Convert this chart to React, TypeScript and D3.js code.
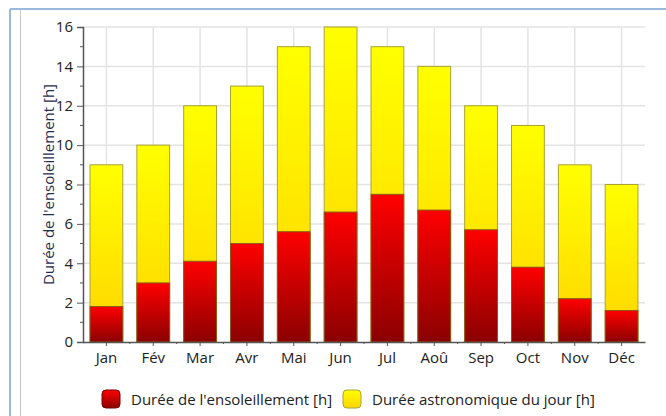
import { useEffect, useRef } from "react";
import * as d3 from "d3";

// month labels, sunshine hours and astronomical day length
const months = ["Jan", "Fév", "Mar", "Avr", "Mai", "Jun", "Jul", "Aoû", "Sep", "Oct", "Nov", "Déc"];
const sunshine = [1.8, 3.0, 4.1, 5.0, 5.6, 6.6, 7.5, 6.7, 5.7, 3.8, 2.2, 1.6];
const daylight = [9, 10, 12, 13, 15, 16, 15, 14, 12, 11, 9, 8];
const yTicks = [0, 2, 4, 6, 8, 10, 12, 14, 16];
const seriesNames = ["Durée de l'ensoleillement [h]", "Durée astronomique du jour [h]"];
const yTitle = "Durée de l'ensoleillement [h]";

const W = 666;
const H = 416;
const FONT = "'Open Sans', sans-serif";

export default function App() {
  const svgRef = useRef<SVGSVGElement>(null);

  useEffect(() => {
    const svg = d3.select(svgRef.current);
    svg.selectAll("*").remove();

    const left = 83, right = 645, top = 27, bottom = 342;

    const x = d3.scaleBand<string>().domain(months).range([left, right])
      .paddingInner(0.3).paddingOuter(0.15);
    const y = d3.scaleLinear().domain([0, 16]).range([bottom, top]);
    const cx = (m: string) => x(m)! + x.bandwidth() / 2;

    // gradients
    const defs = svg.append("defs");
    const grad = (id: string, c1: string, c2: string) => {
      const g = defs.append("linearGradient").attr("id", id)
        .attr("x1", 0).attr("y1", 0).attr("x2", 0).attr("y2", 1);
      g.append("stop").attr("offset", "0%").attr("stop-color", c1);
      g.append("stop").attr("offset", "100%").attr("stop-color", c2);
    };
    grad("gYellow", "#ffff00", "#ffd400");
    grad("gRed", "#ff0000", "#8b0000");

    // outer frame
    svg.append("line").attr("x1", 10).attr("x2", W).attr("y1", 9).attr("y2", 9)
      .attr("stroke", "#9bb9df").attr("stroke-width", 2);
    svg.append("line").attr("x1", 10).attr("x2", 10).attr("y1", 9).attr("y2", H)
      .attr("stroke", "#9bb9df").attr("stroke-width", 2);
    svg.append("line").attr("x1", 20.5).attr("x2", 20.5).attr("y1", 10).attr("y2", H)
      .attr("stroke", "#c9c9c9").attr("stroke-width", 1);

    // grid
    const grid = svg.append("g").attr("stroke", "#e3e3e3").attr("stroke-width", 1.5);
    grid.selectAll("line.h").data(yTicks.slice(1)).join("line")
      .attr("x1", left).attr("x2", right)
      .attr("y1", d => y(d)).attr("y2", d => y(d));
    grid.selectAll("line.v").data(months).join("line")
      .attr("x1", cx).attr("x2", cx)
      .attr("y1", top).attr("y2", bottom);

    // bars: day length behind, sunshine in front
    svg.append("g").selectAll("rect").data(daylight).join("rect")
      .attr("x", (_, i) => x(months[i])!)
      .attr("y", d => y(d))
      .attr("width", x.bandwidth())
      .attr("height", d => bottom - y(d))
      .attr("fill", "url(#gYellow)")
      .attr("stroke", "#a9a235").attr("stroke-width", 1);
    svg.append("g").selectAll("rect").data(sunshine).join("rect")
      .attr("x", (_, i) => x(months[i])!)
      .attr("y", d => y(d))
      .attr("width", x.bandwidth())
      .attr("height", d => bottom - y(d))
      .attr("fill", "url(#gRed)")
      .attr("stroke", "#8a5a10").attr("stroke-width", 1);

    // y axis
    const yAxis = svg.append("g").attr("transform", `translate(${left},0)`)
      .call(d3.axisLeft(y).tickValues(yTicks).tickSize(6).tickPadding(4));
    yAxis.select(".domain").attr("stroke", "#555").attr("stroke-width", 1.5);
    yAxis.selectAll(".tick line").attr("stroke", "#555");
    yAxis.selectAll("text").style("font-family", FONT).style("font-size", "15px").attr("fill", "#222");
    svg.append("g").attr("stroke", "#555").selectAll("line")
      .data(d3.range(1, 16, 2)).join("line")
      .attr("x1", left - 3).attr("x2", left).attr("y1", d => y(d)).attr("y2", d => y(d));

    // x axis
    const xAxis = svg.append("g").attr("transform", `translate(0,${bottom})`)
      .call(d3.axisBottom(x).tickSize(4).tickSizeOuter(0).tickPadding(6));
    xAxis.select(".domain").attr("stroke", "#555").attr("stroke-width", 1.5);
    xAxis.selectAll(".tick line").attr("stroke", "#555");
    xAxis.selectAll("text").style("font-family", FONT).style("font-size", "15px").attr("fill", "#222");
    const step = x.step();
    svg.append("g").attr("stroke", "#555").selectAll("line")
      .data(months.slice(1)).join("line")
      .attr("x1", d => cx(d) - step / 2)
      .attr("x2", d => cx(d) - step / 2)
      .attr("y1", bottom).attr("y2", bottom + 2);

    // y title
    svg.append("text")
      .attr("transform", `translate(54,${(top + bottom) / 2}) rotate(-90)`)
      .attr("text-anchor", "middle")
      .style("font-family", FONT).style("font-size", "15px")
      .attr("fill", "#1f2d4d")
      .text(yTitle);

    // legend
    const legend = svg.append("g").attr("transform", "translate(102,390)");
    const fills = ["url(#gRed)", "url(#gYellow)"];
    const strokes = ["#7a0000", "#a9a235"];
    const offsets = [0, 241];
    seriesNames.forEach((name, i) => {
      const g = legend.append("g").attr("transform", `translate(${offsets[i]},0)`);
      g.append("rect").attr("width", 18).attr("height", 18).attr("rx", 4)
        .attr("fill", fills[i]).attr("stroke", strokes[i]);
      g.append("text").attr("x", 29).attr("y", 15)
        .style("font-family", FONT).style("font-size", "15px").attr("fill", "#222")
        .text(name);
    });
  }, []);

  return (
    <svg
      ref={svgRef}
      width={W}
      height={H}
      style={{ position: "absolute", left: 0, top: 0, background: "#fff" }}
    />
  );
}
